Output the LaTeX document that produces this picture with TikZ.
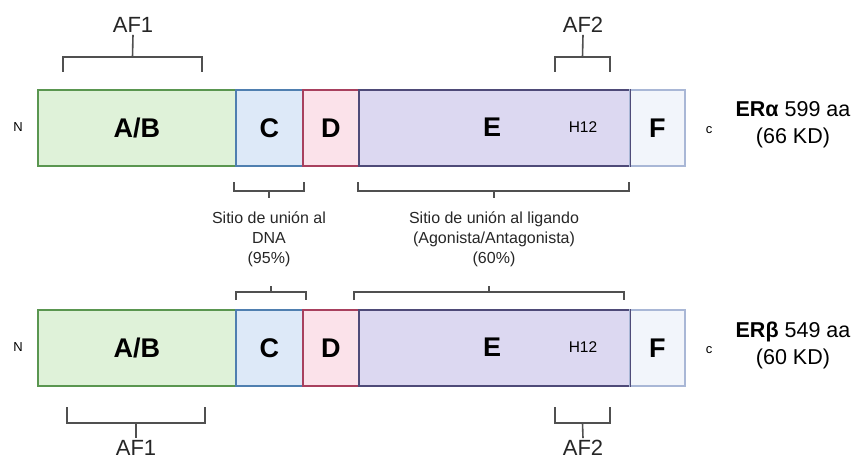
\documentclass[tikz,border=0pt]{standalone}
\usepackage{fontspec}
\setmainfont{Liberation Sans}
\definecolor{abfill}{HTML}{DFF2D9}
\definecolor{abline}{HTML}{5A9650}
\definecolor{cfill}{HTML}{DDE9F8}
\definecolor{cline}{HTML}{4F7FB0}
\definecolor{dfill}{HTML}{FBE2EA}
\definecolor{dline}{HTML}{A8405E}
\definecolor{efill}{HTML}{DCD8F1}
\definecolor{eline}{HTML}{4E4A78}
\definecolor{ffill}{HTML}{F2F5FB}
\definecolor{fline}{HTML}{A9B7D6}
\definecolor{brkgray}{HTML}{505050}
\tikzset{
  dom/.style={draw, line width=1.6pt, anchor=north west, inner sep=0pt,
    minimum height=76pt, font=\fontsize{27}{30}\selectfont\bfseries},
  dlab/.style={inner sep=0pt, font=\fontsize{27}{30}\selectfont\bfseries},
  brk/.style={brkgray, line width=1.6pt},
  afl/.style={font=\fontsize{22}{24}\selectfont, text=black!85, inner sep=2pt},
  endl/.style={font=\fontsize{13}{15}\selectfont},
  site/.style={font=\fontsize{16}{20}\selectfont, align=center, text=black!85},
  erl/.style={font=\fontsize{21.5}{27}\selectfont, align=center},
  hl/.style={font=\fontsize{15.5}{17}\selectfont}
}
\begin{document}
\begin{tikzpicture}[x=1pt,y=-1pt]
\useasboundingbox (0,0) rectangle (857,460);
% receptor alfa
\node[dom, fill=abfill, draw=abline, minimum width=198pt] (ab1) at (37,89) {A/B};
\node[dom, fill=cfill, draw=cline, minimum width=67pt] (c1) at (235,89) {C};
\node[dom, fill=dfill, draw=dline, minimum width=56pt] (d1) at (302,89) {D};
\node[dom, fill=efill, draw=eline, minimum width=271pt] (e1) at (358,89) {};
\node[dom, fill=ffill, draw=fline, minimum width=55pt] (f1) at (629,89) {F};
\draw[eline, line width=1.6pt] (e1.north east) -- (e1.south east);
\node[dlab] (el1) at (492,127) {E};
\node[hl] (h1) at (583,127) {H12};
\node[endl] (n1) at (18,127) {N};
\node[endl] (cc1) at (709,130) {c};
\node[erl] (er1) at (793,125) {\textbf{ERα} 599 aa\\(66 KD)};
% receptor beta
\node[dom, fill=abfill, draw=abline, minimum width=198pt] (ab2) at (37,309) {A/B};
\node[dom, fill=cfill, draw=cline, minimum width=67pt] (c2) at (235,309) {C};
\node[dom, fill=dfill, draw=dline, minimum width=56pt] (d2) at (302,309) {D};
\node[dom, fill=efill, draw=eline, minimum width=271pt] (e2) at (358,309) {};
\node[dom, fill=ffill, draw=fline, minimum width=55pt] (f2) at (629,309) {F};
\draw[eline, line width=1.6pt] (e2.north east) -- (e2.south east);
\node[dlab] (el2) at (492,347) {E};
\node[hl] (h2) at (583,347) {H12};
\node[endl] (n2) at (18,347) {N};
\node[endl] (cc2) at (709,350) {c};
\node[erl] (er2) at (793,345) {\textbf{ERβ} 549 aa\\(60 KD)};
% etiquetas AF
\node[afl] (af1a) at (133,25) {AF1};
\node[afl] (af2a) at (583,25) {AF2};
\node[afl] (af1b) at (136,448) {AF1};
\node[afl] (af2b) at (583,448) {AF2};
\draw[brk] (63,72) -- (63,57) -- (202,57) -- (202,72);
\draw[brk] (132.5,57) -- (af1a.south);
\draw[brk] (555,72) -- (555,57) -- (610,57) -- (610,72);
\draw[brk] (582.5,57) -- (af2a.south);
\draw[brk] (67,407) -- (67,423) -- (205,423) -- (205,407);
\draw[brk] (136,423) -- (af1b.north);
\draw[brk] (555,407) -- (555,423) -- (610,423) -- (610,407);
\draw[brk] (582.5,423) -- (af2b.north);
% sitios de union
\node[site] (dna) at (269,239) {Sitio de unión al\\DNA\\(95\%)};
\node[site] (lig) at (494,239) {Sitio de unión al ligando\\(Agonista/Antagonista)\\(60\%)};
\draw[brk] (234,182) -- (234,191) -- (304,191) -- (304,182);
\draw[brk] (269,191) -- (269,198);
\draw[brk] (358,182) -- (358,191) -- (629,191) -- (629,182);
\draw[brk] (494,191) -- (494,198);
\draw[brk] (236,300) -- (236,292) -- (306,292) -- (306,300);
\draw[brk] (271,292) -- (271,286);
\draw[brk] (354,300) -- (354,292) -- (624,292) -- (624,300);
\draw[brk] (489,292) -- (489,286);
\end{tikzpicture}
\end{document}
